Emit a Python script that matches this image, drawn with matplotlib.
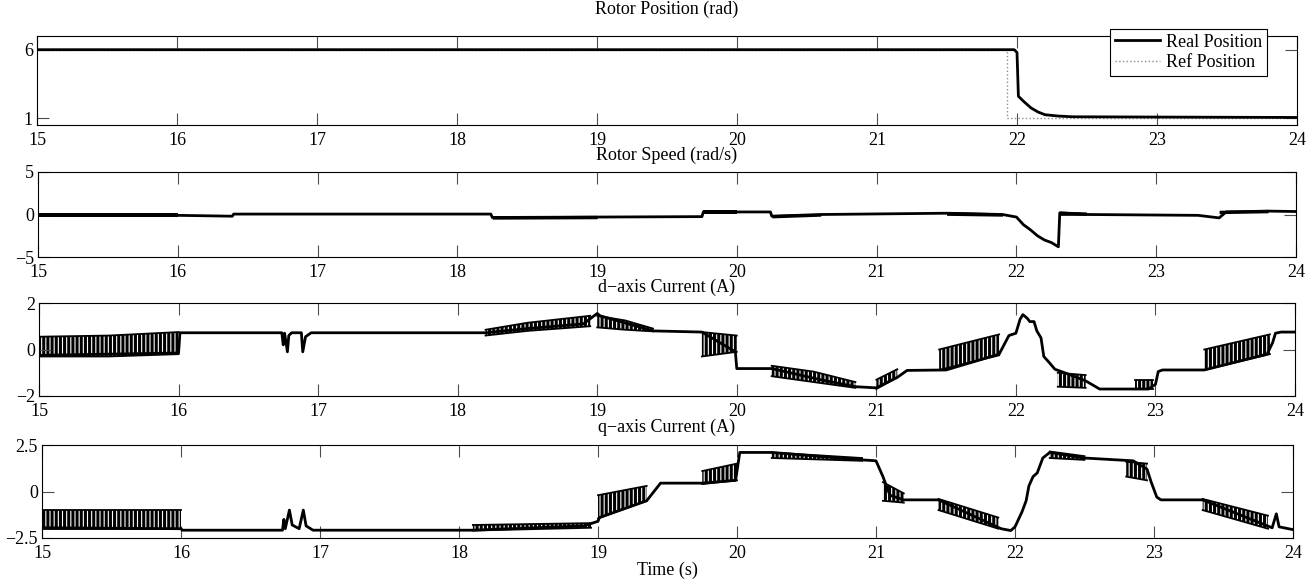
import matplotlib
matplotlib.use("Agg")
import numpy as np
from matplotlib import pyplot as plt

plt.rcParams["font.family"] = ["Liberation Serif", "DejaVu Serif"]
plt.rcParams["font.size"] = 13
plt.rcParams["hatch.linewidth"] = 2.2

# ---- rotor position (rad) ----
pos_t = [15.0, 21.98, 22.0, 22.01, 22.05, 22.1, 22.15, 22.2, 22.3, 22.4, 23.0, 24.0]
pos_v = [6.0, 6.0, 5.8, 2.6, 2.2, 1.75, 1.45, 1.25, 1.15, 1.1, 1.08, 1.05]
ref_t = [15.0, 21.93, 21.93, 24.0]
ref_v = [6.0, 6.0, 1.0, 1.0]
pos_wiggle = [([15.0, 16.0], [5.93, 5.93], [6.07, 6.07]),
              ([22.4, 22.6], [1.0, 1.0], [1.15, 1.15]),
              ([23.4, 23.9], [1.0, 1.0], [1.15, 1.15])]

# ---- rotor speed (rad/s) ----
spd_t = [15.0, 16.0, 16.39, 16.4, 18.24, 18.25, 19.0, 19.75, 19.76, 20.24, 20.25, 20.6,
         21.5, 21.9, 22.0, 22.05, 22.1, 22.15, 22.2, 22.25, 22.3, 22.31, 22.5, 23.3,
         23.45, 23.5, 23.8, 24.0]
spd_v = [-0.1, -0.1, -0.2, 0.05, 0.05, -0.35, -0.3, -0.25, 0.3, 0.3, -0.2, 0.0,
         0.15, 0.0, -0.3, -1.2, -1.8, -2.5, -3.0, -3.3, -3.8, 0.2, 0.0, -0.1,
         -0.4, 0.3, 0.4, 0.35]
spd_wiggle = [([15.0, 16.0], [-0.35, -0.35], [0.15, 0.15]),
              ([18.25, 19.0], [-0.55, -0.5], [-0.15, -0.1]),
              ([19.76, 20.0], [0.1, 0.1], [0.5, 0.5]),
              ([20.25, 20.6], [-0.4, -0.2], [0.0, 0.15]),
              ([21.5, 21.9], [-0.1, -0.2], [0.35, 0.2]),
              ([22.31, 22.5], [-0.1, -0.1], [0.4, 0.3]),
              ([23.45, 23.8], [0.1, 0.2], [0.5, 0.6])]

# ---- d-axis current (A) ----
d_t = [15.0, 16.0, 16.01, 16.74, 16.75, 16.76, 16.78, 16.79, 16.81, 16.88, 16.89, 16.91,
       16.95, 18.2, 18.5, 18.9, 19.0, 19.02, 19.4, 19.75, 19.99, 20.0, 20.25, 20.6,
       20.85, 21.0, 21.05, 21.15, 21.22, 21.5, 21.88, 21.95, 22.0, 22.03, 22.05, 22.08,
       22.1, 22.13, 22.15, 22.18, 22.2, 22.23, 22.28, 22.35, 22.5, 22.6, 22.95, 23.0,
       23.02, 23.05, 23.35, 23.8, 23.84, 23.86, 23.9, 24.0]
d_v = [-0.25, -0.15, 0.72, 0.72, 0.2, 0.7, -0.1, 0.6, 0.72, 0.72, -0.1, 0.55,
       0.72, 0.72, 0.9, 1.1, 1.55, 1.45, 0.8, 0.75, -0.1, -0.82, -0.82, -1.3,
       -1.6, -1.65, -1.5, -1.2, -0.9, -0.88, -0.2, 0.6, 0.7, 1.3, 1.5, 1.35,
       1.2, 1.2, 0.8, 0.5, -0.3, -0.5, -0.85, -1.0, -1.35, -1.7, -1.7, -1.5,
       -0.95, -0.88, -0.88, -0.2, 0.3, 0.7, 0.75, 0.75]
d_spikes = [([15.0, 15.5, 16.0], [-0.3, -0.3, -0.2], [0.55, 0.6, 0.75]),
            ([18.2, 18.5, 18.95], [0.6, 0.8, 1.0], [0.85, 1.15, 1.45]),
            ([19.0, 19.2, 19.4], [0.95, 0.85, 0.78], [1.45, 1.25, 0.9]),
            ([19.75, 20.0], [-0.3, -0.1], [0.75, 0.6]),
            ([20.25, 20.55, 20.85], [-1.15, -1.4, -1.65], [-0.7, -0.95, -1.4]),
            ([21.0, 21.15], [-1.7, -1.2], [-1.3, -0.85]),
            ([21.45, 21.88], [-0.88, -0.25], [0.0, 0.65]),
            ([22.3, 22.5], [-1.6, -1.65], [-1.0, -1.1]),
            ([22.85, 22.98], [-1.7, -1.7], [-1.3, -1.3]),
            ([23.35, 23.82], [-0.88, -0.2], [0.0, 0.65])]

# ---- q-axis current (A) ----
q_t = [15.0, 16.0, 16.01, 16.73, 16.74, 16.75, 16.78, 16.8, 16.85, 16.88, 16.9, 16.95,
       18.1, 18.9, 19.0, 19.01, 19.35, 19.45, 19.75, 19.99, 20.02, 20.25, 20.9, 21.0,
       21.05, 21.1, 21.2, 21.45, 21.9, 21.97, 22.0, 22.05, 22.08, 22.1, 22.13, 22.16,
       22.2, 22.25, 22.5, 22.85, 22.95, 22.98, 23.02, 23.05, 23.35, 23.85, 23.88, 23.9,
       24.0]
q_v = [-1.95, -2.0, -2.08, -2.08, -1.5, -2.0, -1.0, -1.8, -2.0, -1.0, -1.85, -2.08,
       -2.08, -1.85, -1.6, -1.4, -0.5, 0.45, 0.45, 0.6, 2.1, 2.1, 1.7, 1.65,
       0.8, -0.2, -0.45, -0.45, -2.0, -2.1, -1.9, -1.1, -0.5, 0.3, 0.8, 1.0,
       1.8, 2.1, 1.8, 1.65, 1.2, 0.5, -0.3, -0.45, -0.45, -1.95, -1.2, -1.9,
       -2.05]
q_spikes = [([15.0, 16.0], [-2.0, -2.0], [-1.0, -1.0]),
            ([18.1, 18.95], [-2.1, -1.95], [-1.8, -1.7]),
            ([19.0, 19.35], [-1.45, -0.5], [-0.2, 0.3]),
            ([19.75, 20.0], [0.4, 0.6], [1.1, 1.5]),
            ([20.25, 20.9], [1.8, 1.65], [2.1, 1.8]),
            ([21.05, 21.2], [-0.5, -0.6], [0.5, -0.1]),
            ([21.45, 21.88], [-1.0, -2.0], [-0.4, -1.4]),
            ([22.25, 22.5], [1.8, 1.7], [2.15, 1.9]),
            ([22.8, 22.95], [0.8, 0.6], [1.6, 1.5]),
            ([23.35, 23.82], [-1.0, -2.0], [-0.4, -1.3])]

x_ticks = [15, 16, 17, 18, 19, 20, 21, 22, 23, 24]

fig = plt.figure(figsize=(13.16, 5.82), dpi=100)
W, H = 1316.0, 582.0


def make_axes(l, r, t, b):
    return fig.add_axes([l / W, 1 - b / H, (r - l) / W, (b - t) / H])


ax1 = make_axes(37, 1297, 36, 125)
ax2 = make_axes(38, 1296, 172, 257)
ax3 = make_axes(39, 1295, 303, 396)
ax4 = make_axes(42, 1293, 445, 538)

lw = 2.0
ax1.plot(ref_t, ref_v, color="0.55", linestyle=":", linewidth=1.0, label="Ref Position", zorder=2)
ax1.plot(pos_t, pos_v, color="k", linewidth=lw, label="Real Position", zorder=3)
for t, lo, hi in pos_wiggle:
    ax1.fill_between(t, lo, hi, color="k", linewidth=0, zorder=3)

ax2.plot(spd_t, spd_v, color="k", linewidth=lw)
for t, lo, hi in spd_wiggle:
    ax2.fill_between(t, lo, hi, color="k", linewidth=0)

for ax, t_, v_, bands in [(ax3, d_t, d_v, d_spikes), (ax4, q_t, q_v, q_spikes)]:
    ax.plot(t_, v_, color="k", linewidth=lw)
    for t, lo, hi in bands:
        ax.fill_between(t, lo, hi, facecolor="none", edgecolor="k", hatch="||||", linewidth=0)
        ax.plot(t, lo, color="k", linewidth=1.3)
        ax.plot(t, hi, color="k", linewidth=1.3)

ylims = [(0.5, 7), (-5, 5), (-2, 2), (-2.5, 2.5)]
yticks = [[1, 6], [-5, 0, 5], [-2, 0, 2], [-2.5, 0, 2.5]]
yticklabels = [["1", "6"], ["\u22125", "0", "5"], ["\u22122", "0", "2"], ["\u22122.5", "0", "2.5"]]
for ax, yl, yt, ytl in zip([ax1, ax2, ax3, ax4], ylims, yticks, yticklabels):
    ax.set_xlim(15, 24)
    ax.set_ylim(*yl)
    ax.set_xticks(x_ticks)
    ax.set_yticks(yt)
    ax.set_yticklabels(ytl)
    ax.tick_params(direction="in", length=8.5, width=0.8, color="0.3",
                   top=True, right=True, labelsize=13)
    ax.tick_params(axis="x", pad=5)
    ax.tick_params(axis="y", pad=3)
    for s in ax.spines.values():
        s.set_linewidth(0.8)

titles = ["Rotor Position (rad)", "Rotor Speed (rad/s)",
          "d\u2212axis Current (A)", "q\u2212axis Current (A)"]
title_y = [9, 155, 287, 427]
for txt, y in zip(titles, title_y):
    fig.text(667 / W, 1 - y / H, txt, ha="center", va="center", fontsize=13)
fig.text(667 / W, 1 - 570 / H, "Time (s)", ha="center", va="center", fontsize=13)

handles, labels = ax1.get_legend_handles_labels()
leg = ax1.legend(handles[::-1], labels[::-1], loc="upper right",
                 bbox_to_anchor=(1267 / W, 1 - 29 / H), bbox_transform=fig.transFigure,
                 fancybox=False, edgecolor="k", framealpha=1, fontsize=13,
                 handlelength=2.5, handletextpad=0.35, labelspacing=0.2,
                 borderpad=0.25, borderaxespad=0)
leg.get_frame().set_linewidth(0.8)

fig.savefig("out.png", dpi=100)
